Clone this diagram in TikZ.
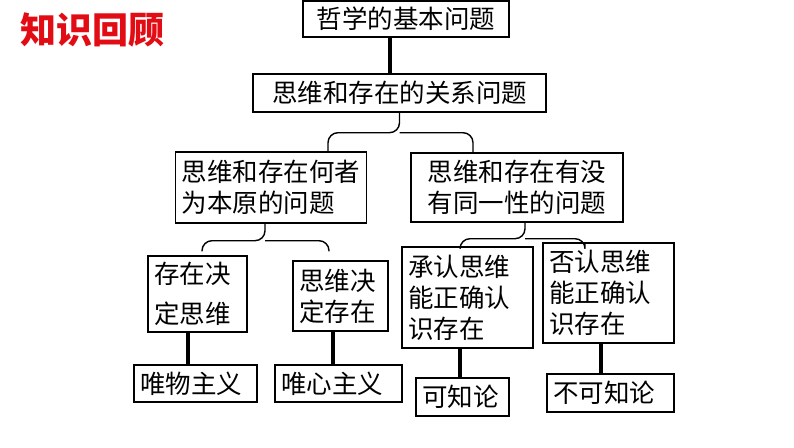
\documentclass[tikz,border=0pt]{standalone}
\usepackage{fontspec}
\newfontfamily\cjk{Noto Sans CJK SC}
\usetikzlibrary{positioning}
\definecolor{titlered}{RGB}{226,12,20}

\begin{document}
\begin{tikzpicture}[x=1pt, y=-1pt]
    \tikzset{
        box/.style={draw, line width=1.4pt, inner xsep=6pt, inner ysep=0pt,
            align=left, font=\cjk\fontsize{25.5}{31}\selectfont},
        link/.style={line width=3.6pt},
        brace/.style={line width=1.4pt, rounded corners=10pt}
    }
    \useasboundingbox (0,0) rectangle (794,447);

    \node [inner sep=0pt, anchor=west, text=titlered,
        font=\cjk\bfseries\fontsize{36}{40}\selectfont] (title) at (20,30) {知识回顾};

    % top two levels
    \node [box, minimum width=206, minimum height=36] (b1) at (406,19) {哲学的基本问题};
    \node [box, minimum width=293, minimum height=38] (b2) at (399.5,93) {思维和存在的关系问题};

    \node [box, minimum width=190, minimum height=71] (q1) at (271,187.5) {思维和存在何者\\为本原的问题};
    \node [box, minimum width=212, minimum height=69] (q2) at (517,187.5) {思维和存在有没\\有同一性的问题};

    % answers
    \node [box, text width=87, minimum height=76] (s1) at (197.5,294) {存在决\\[9pt]定思维};
    \node [box, text width=83, minimum height=70] (s2) at (340.5,296) {思维决\\定存在};
    \node [box, text width=119, minimum height=101] (s3) at (467.5,297.5) {承认思维\\能正确认\\识存在};
    \node [box, text width=119, minimum height=100] (s4) at (608.5,293) {否认思维\\能正确认\\识存在};

    \node [box, text width=111, minimum height=37] (m1) at (195.5,383.5) {唯物主义};
    \node [box, text width=115, minimum height=37] (m2) at (338.5,383.5) {唯心主义};
    \node [box, text width=81, minimum height=38] (m3) at (462.5,397) {可知论};
    \node [box, text width=115, minimum height=38] (m4) at (610.5,393) {不可知论};

    % straight links
    \coordinate (k0) at ([xshift=-16pt]b1.south);
    \coordinate (k1) at ([xshift=-9.5pt]s1.south);
    \coordinate (k2) at ([xshift=-7.5pt]s2.south);
    \coordinate (k3) at ([xshift=-7.5pt]s3.south);
    \coordinate (k4) at ([xshift=-7.5pt]s4.south);
    \draw [link] (k0) -- (k0 |- b2.north);
    \draw [link] (k1) -- (k1 |- m1.north);
    \draw [link] (k2) -- (k2 |- m2.north);
    \draw [link] (k3) -- (k3 |- m3.north);
    \draw [link] (k4) -- (k4 |- m4.north);

    % braces
    \draw [brace] ([xshift=57pt]q1.north) |- ([yshift=-20pt]b2.south) -- (b2.south);
    \draw [brace] ([xshift=-44pt]q2.north) |- ([yshift=-20pt]b2.south);
    % \draw [brace] (q1.north) -- (b2.south);

    \draw [brace] ([xshift=4.5pt, yshift=4pt]s1.north) |- ([xshift=-6pt, yshift=-17pt]q1.south) -- ([xshift=-6pt]q1.south);
    \draw [brace] ([xshift=-11.5pt, yshift=9pt]s2.north) |- ([xshift=-6pt, yshift=-17pt]q1.south);

    \draw [brace] ([xshift=-7.5pt]s3.north) |- ([xshift=8pt, yshift=-16pt]q2.south) -- ([xshift=8pt]q2.south);
    \draw [brace] ([xshift=-23.5pt]s4.north) |- ([xshift=8pt, yshift=-16pt]q2.south);

\end{tikzpicture}
\end{document}
